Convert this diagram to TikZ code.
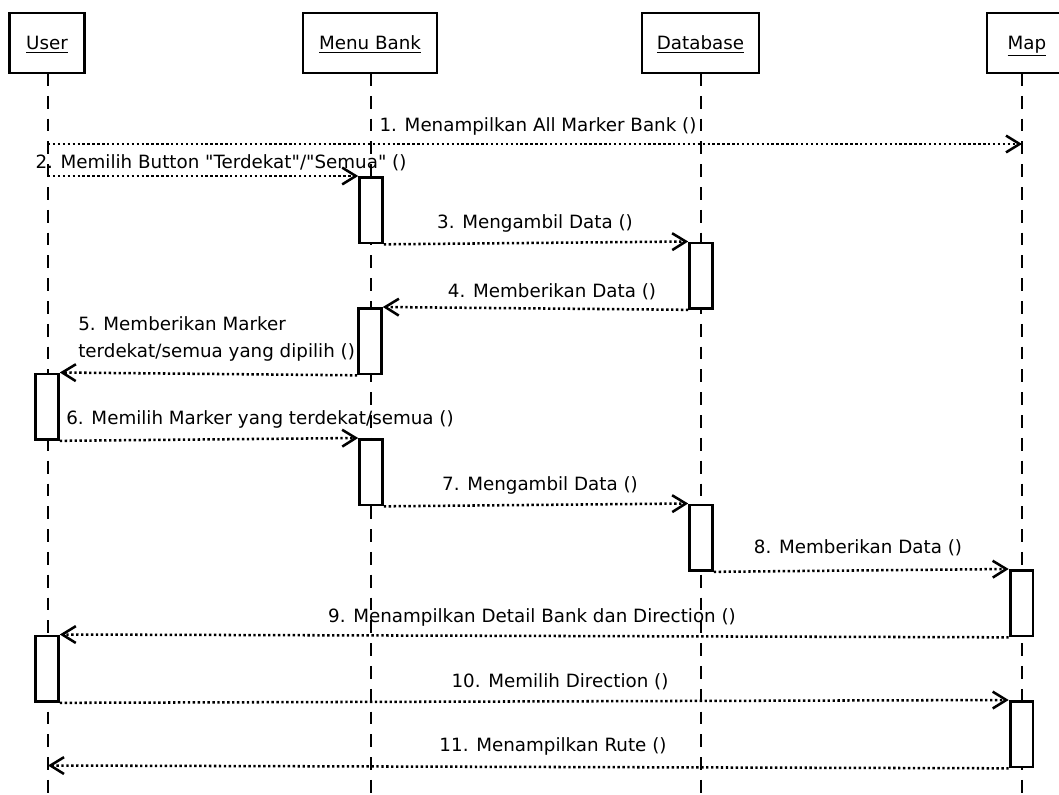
\documentclass[tikz,border=0pt]{standalone}
\usepackage{fontspec}
\setmainfont{DejaVu Sans}
\usetikzlibrary{arrows.meta}

\tikzset{
  head/.style={draw, line width=2pt, minimum height=1.5cm, inner sep=0pt, text height=1.15em, text depth=0.2em, font=\fontsize{13}{15}\selectfont},
  act/.style={draw, fill=white, line width=2pt, minimum width=0.57cm, minimum height=1.6375cm, anchor=north, inner sep=0pt},
  life/.style={line width=0.8pt, dash pattern=on 0.32cm off 0.25cm},
  msg/.style={line width=1.8pt, dash pattern=on 1.7pt off 1.8pt, -{Straight Barb[length=0.34cm, width=0.42cm, line width=1.8pt]}},
  lbl/.style={font=\fontsize{13}{19}\selectfont, inner sep=0pt}
}

\begin{document}
\begin{tikzpicture}[x=0.025cm, y=-0.025cm]
\useasboundingbox (0,0) rectangle (1059,795);

% heads
\node[head, minimum width=1.875cm] (user) at (47,43) {\underline{User}};
\node[head, minimum width=3.35cm] (menu) at (370,43) {\underline{Menu Bank}};
\node[head, minimum width=2.925cm] (db) at (700.5,43) {\underline{Database}};
\node[head, minimum width=2cm] (map) at (1027,43) {\underline{Map}};

% lifelines
\coordinate (userend) at (48,795);
\coordinate (menuend) at (371,795);
\coordinate (dbend) at (701,795);
\coordinate (maptop) at (1022,73);
\coordinate (mapend) at (1022,795);
\draw[life] (48,73) -- (userend);
\draw[life] (371,73) -- (menuend);
\draw[life] (701,73) -- (dbend);
\draw[life] (maptop) -- (mapend);

% activations
\node[act] (mb1) at (371,176) {};
\node[act] (db1) at (701,241.5) {};
\node[act] (mb2) at (370,307) {};
\node[act] (us1) at (47,372.5) {};
\node[act] (mb3) at (371,438) {};
\node[act] (db2) at (701,503.5) {};
\node[act] (mp1) at (1021.5,569) {};
\node[act] (us2) at (47,634.5) {};
\node[act] (mp2) at (1021.5,700) {};

% messages
\coordinate (u0) at (48,144);
\coordinate (p0) at (1022,144);
\coordinate (u1) at (48,176);
\coordinate (u2) at (48,765.5);
\draw[msg] (u0) -- (p0);
\draw[msg] (u1) -- (mb1.north west);
\draw[msg] (mb1.south east) -- (db1.north west);
\draw[msg] (db1.south west) -- (mb2.north east);
\draw[msg] (mb2.south west) -- (us1.north east);
\draw[msg] (us1.south east) -- (mb3.north west);
\draw[msg] (mb3.south east) -- (db2.north west);
\draw[msg] (db2.south east) -- (mp1.north west);
\draw[msg] (mp1.south west) -- (us2.north east);
\draw[msg] (us2.south east) -- (mp2.north west);
\draw[msg] (mp2.south west) -- (u2);

% labels
\node[lbl] (l1) at (538,126) {1. Menampilkan All Marker Bank ()};
\node[lbl] (l2) at (221,163) {2. Memilih Button \textquotedbl Terdekat\textquotedbl/\textquotedbl Semua\textquotedbl{} ()};
\node[lbl] (l3) at (535,223) {3. Mengambil Data ()};
\node[lbl] (l4) at (552,292) {4. Memberikan Data ()};
\node[lbl, anchor=west, align=left] (l5) at (78,339) {5. Memberikan Marker\\terdekat/semua yang dipilih ()};
\node[lbl] (l6) at (260,419) {6. Memilih Marker yang terdekat/semua ()};
\node[lbl] (l7) at (540,485) {7. Mengambil Data ()};
\node[lbl] (l8) at (858,548) {8. Memberikan Data ()};
\node[lbl] (l9) at (532,617) {9. Menampilkan Detail Bank dan Direction ()};
\node[lbl] (l10) at (560,682) {10. Memilih Direction ()};
\node[lbl] (l11) at (553,746) {11. Menampilkan Rute ()};
\end{tikzpicture}
\end{document}
